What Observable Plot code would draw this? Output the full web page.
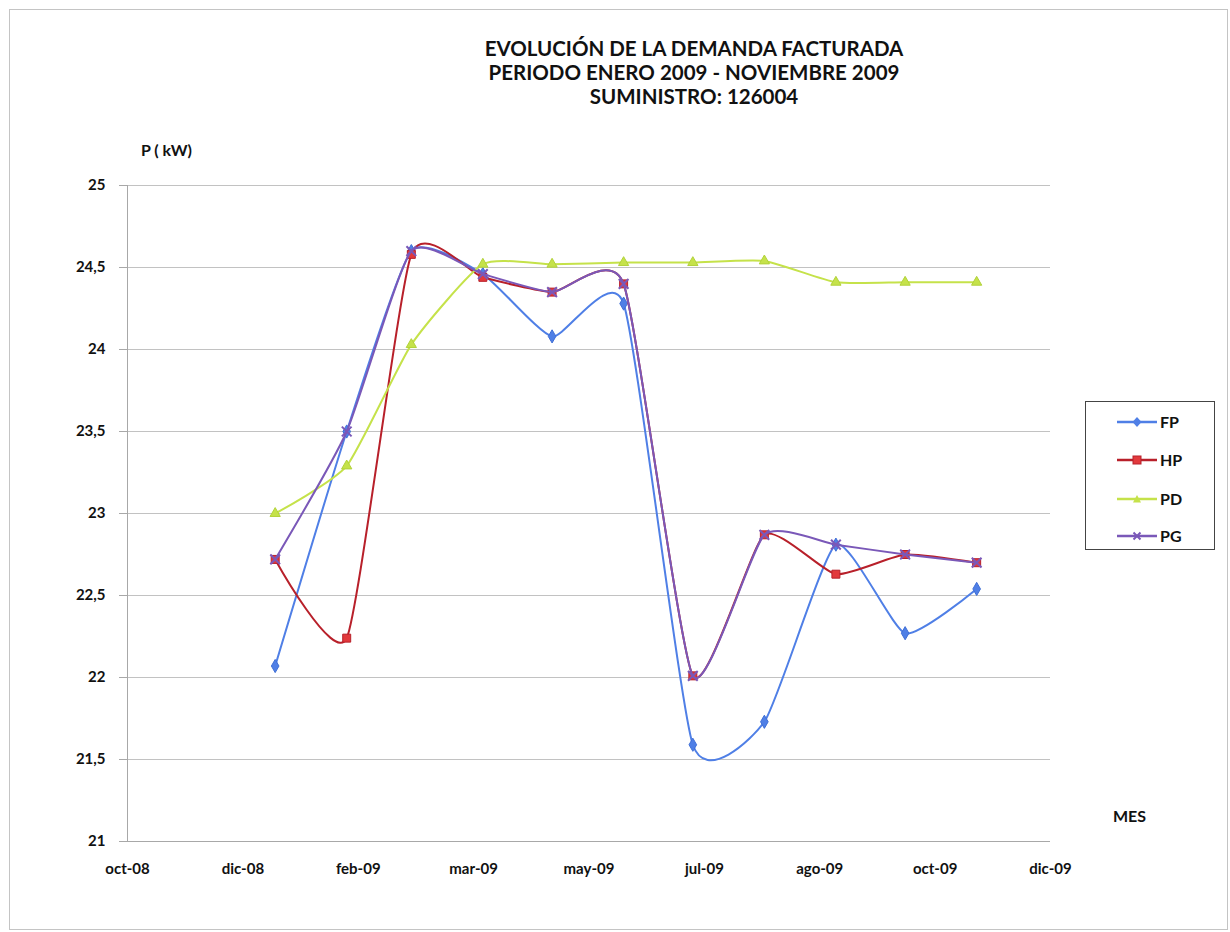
<!DOCTYPE html>
<html>
<head>
<meta charset="utf-8">
<script src="https://cdn.jsdelivr.net/npm/d3@7"></script>
<script src="https://cdn.jsdelivr.net/npm/@observablehq/plot@0.6"></script>
<style>
  body { margin: 0; background: #fff; font-family: Lato, "Noto Sans", sans-serif; }
  #wrap { position: relative; width: 1230px; height: 932px; overflow: hidden; }
  #frame { position: absolute; left: 9px; top: 9px; width: 1217px; height: 919px; border: 1px solid #c4c4c4; }
  #title { position: absolute; left: 394px; width: 600px; top: 36px; text-align: center; font-weight: bold; font-size: 20.5px; line-height: 24px; color: #111; }
  #ylab { position: absolute; left: 141px; top: 140px; font-weight: bold; font-size: 16px; color: #111; }
  #xlab { position: absolute; left: 1113px; top: 806px; font-weight: bold; font-size: 16px; color: #111; }
  #chart { position: absolute; left: 0; top: 160px; }
  #legend { position: absolute; left: 1085px; top: 401px; width: 130px; height: 149px; border: 1.5px solid #444; box-sizing: border-box; background: #fff; }
  .item { position: absolute; left: 30px; display: flex; align-items: center; font-weight: bold; font-size: 16px; color: #111; }
  .item svg { margin-right: 2px; }
</style>
</head>
<body>
<div id="wrap">
  <div id="frame"></div>
  <div id="title">EVOLUCIÓN DE LA DEMANDA FACTURADA<br>PERIODO ENERO 2009 - NOVIEMBRE 2009<br>SUMINISTRO: 126004</div>
  <div id="ylab">P ( kW)</div>
  <div id="xlab">MES</div>
  <div id="chart"></div>
  <div id="legend"></div>
</div>
<script>
// ---- data ----
const months = ["2009-01-01","2009-02-01","2009-03-01","2009-04-01","2009-05-01","2009-06-01",
                "2009-07-01","2009-08-01","2009-09-01","2009-10-01","2009-11-01"];
const FP = [22.07, 23.50, 24.60, 24.46, 24.08, 24.28, 21.59, 21.73, 22.81, 22.27, 22.54];
const HP = [22.72, 22.24, 24.58, 24.44, 24.35, 24.40, 22.01, 22.87, 22.63, 22.75, 22.70];
const PD = [23.00, 23.29, 24.03, 24.52, 24.52, 24.53, 24.53, 24.54, 24.41, 24.41, 24.41];
const PG = [22.72, 23.50, 24.60, 24.46, 24.35, 24.40, 22.01, 22.87, 22.81, 22.75, 22.70];
const seriesNames = ["FP", "HP", "PD", "PG"];
const tickDates = ["2008-10-29","2008-12-18","2009-02-06","2009-03-28","2009-05-17",
                   "2009-07-06","2009-08-25","2009-10-14","2009-12-03"];
const tickLabels = ["oct-08","dic-08","feb-09","mar-09","may-09","jul-09","ago-09","oct-09","dic-09"];
const yTicks = [21, 21.5, 22, 22.5, 23, 23.5, 24, 24.5, 25];

// ---- styles ----
const styles = {
  FP: {line: "#4f7fe6", fill: "#4f7fe6", stroke: "#3f6fd6", symbol: "diamond", r: 4},
  HP: {line: "#b8202a", fill: "#e2393c", stroke: "#b8202a", symbol: "square", r: 4.5},
  PD: {line: "#c5e24a", fill: "#c5e24a", stroke: "#b2d23a", symbol: "triangle", r: 3.8},
  PG: {line: "#7a58b8", fill: "none", stroke: "#7a58b8", symbol: "times", r: 4.5}
};

const valuesBy = {FP, HP, PD, PG};
const rows = seriesNames.flatMap(s => months.map((m, i) => ({series: s, date: new Date(m), value: valuesBy[s][i]})));
const ticks = tickDates.map(d => new Date(d));
const fmt = d => String(d).replace(".", ",");

const marks = [
  Plot.gridY(yTicks, {stroke: "#c2c2c2", strokeOpacity: 1, strokeWidth: 1}),
  Plot.ruleY([21], {stroke: "#a8a8a8"}),
  Plot.ruleX([ticks[0]], {stroke: "#a8a8a8"}),
  Plot.axisY(yTicks, {tickSize: 8, stroke: "#a8a8a8", tickPadding: 14, tickFormat: fmt, fill: "#111", fontSize: 15, fontWeight: "bold", label: null}),
  Plot.axisX(ticks, {tickSize: 0, tickPadding: 22, tickFormat: (d, i) => tickLabels[i], fill: "#111", fontSize: 15, fontWeight: "bold", label: null})
];
for (const s of seriesNames) {
  const st = styles[s];
  const data = rows.filter(r => r.series === s);
  marks.push(Plot.line(data, {x: "date", y: "value", stroke: st.line, strokeWidth: 2, curve: "cardinal", tension: 0.45}));
  if (st.symbol === "times") {
    marks.push(Plot.dot(data, {x: "date", y: "value", symbol: "times", r: st.r, stroke: st.stroke, strokeWidth: 2}));
  } else {
    marks.push(Plot.dot(data, {x: "date", y: "value", symbol: st.symbol, r: st.r, fill: st.fill, stroke: st.stroke, strokeWidth: 1}));
  }
}

const chart = Plot.plot({
  width: 1230,
  height: 740,
  marginLeft: 127,
  marginRight: 180,
  marginTop: 25,
  marginBottom: 59,
  style: {fontFamily: "Lato, 'Noto Sans', sans-serif", fontSize: "15px", background: "transparent"},
  x: {type: "utc", domain: [ticks[0], ticks[ticks.length - 1]]},
  y: {domain: [21, 25]},
  marks
});
document.getElementById("chart").appendChild(chart);

// ---- legend ----
const legend = document.getElementById("legend");
const tops = [10, 48, 87, 124];
seriesNames.forEach((s, i) => {
  const st = styles[s];
  const div = document.createElement("div");
  div.className = "item";
  div.style.top = tops[i] + "px";
  let shape = "";
  if (st.symbol === "diamond") shape = `<path d="M21,2 L25.5,7 L21,12 L16.5,7Z" fill="${st.fill}"/>`;
  if (st.symbol === "square") shape = `<rect x="17" y="3" width="8" height="8" fill="${st.fill}" stroke="${st.stroke}"/>`;
  if (st.symbol === "triangle") shape = `<path d="M21,3 L25,10.5 L17,10.5Z" fill="${st.fill}"/>`;
  if (st.symbol === "times") shape = `<path d="M17.5,3.5 L24.5,10.5 M24.5,3.5 L17.5,10.5" stroke="${st.stroke}" stroke-width="2"/>`;
  div.innerHTML = `<svg width="42" height="14"><line x1="1" y1="7" x2="41" y2="7" stroke="${st.line}" stroke-width="2.5"/>${shape}</svg><span>${s}</span>`;
  legend.appendChild(div);
});
</script>
</body>
</html>
